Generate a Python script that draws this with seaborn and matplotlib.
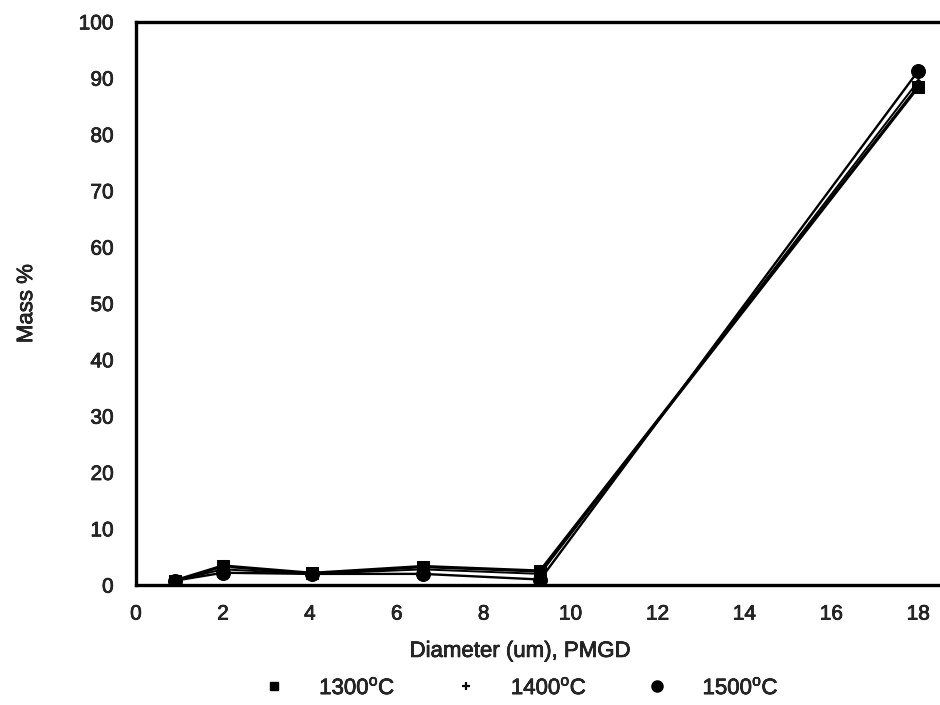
import matplotlib
matplotlib.use("Agg")
import matplotlib.pyplot as plt
import matplotlib.patheffects as pe
import seaborn as sns
import pandas as pd
from matplotlib.lines import Line2D

# Particle diameter (um, PMGD) and mass fraction per furnace temperature
diameters = [0.9, 2.0, 4.05, 6.6, 9.3, 18.0]
mass_1300 = [0.8, 3.4, 2.1, 3.3, 2.5, 88.5]
mass_1400 = [0.8, 2.8, 2.0, 2.8, 2.0, 89.5]
mass_1500 = [0.8, 2.2, 2.0, 2.0, 1.0, 91.3]
series_labels = ["1300$^{\\rm o}$C", "1400$^{\\rm o}$C", "1500$^{\\rm o}$C"]
x_ticks = [0, 2, 4, 6, 8, 10, 12, 14, 16, 18]
y_ticks = [0, 10, 20, 30, 40, 50, 60, 70, 80, 90, 100]

rows = []
for lab, vals in zip(series_labels, [mass_1300, mass_1400, mass_1500]):
    for d, m in zip(diameters, vals):
        rows.append({"Diameter": d, "Mass": m, "Temperature": lab})
df = pd.DataFrame(rows)

sns.set_style("white")
plt.rcParams["font.family"] = ["Liberation Sans", "DejaVu Sans"]
plt.rcParams["mathtext.fontset"] = "custom"
plt.rcParams["mathtext.rm"] = "Liberation Sans"

# slight stroke to give the text a heavier, printed look
heavy = [pe.withStroke(linewidth=0.5, foreground="black")]

fig = plt.figure(figsize=(9.4, 7.05), dpi=100)
ax = fig.add_axes([0.1447, 0.170, 0.8553, 0.799])

markers = {series_labels[0]: "s", series_labels[1]: "P", series_labels[2]: "o"}
widths = {series_labels[0]: 2.4, series_labels[1]: 1.4, series_labels[2]: 1.7}
msz = {series_labels[0]: 9, series_labels[1]: 3, series_labels[2]: 10}
for lab in series_labels:
    sub = df[df["Temperature"] == lab]
    sns.lineplot(data=sub, x="Diameter", y="Mass", ax=ax, color="black",
                 linewidth=widths[lab], marker=markers[lab], markersize=msz[lab],
                 markeredgecolor="black", markerfacecolor="black", legend=False)

ax.set_xlim(0, 18.5)
ax.set_ylim(0, 100)
ax.set_xticks(x_ticks)
ax.set_yticks(y_ticks)
ax.tick_params(axis="y", length=0, labelsize=15, pad=16)
ax.tick_params(axis="x", length=0, labelsize=15, pad=14)
for s in ["left", "top", "bottom"]:
    ax.spines[s].set_color("black")
    ax.spines[s].set_linewidth(2.4)
ax.spines["right"].set_visible(False)
for t in ax.get_xticklabels() + ax.get_yticklabels():
    t.set_path_effects(heavy)

ax.set_xlabel("Diameter (um), PMGD", fontsize=16, path_effects=heavy)
ax.set_ylabel("Mass %", fontsize=16, path_effects=heavy)
ax.xaxis.set_label_coords(0.478, -0.099)
ax.yaxis.set_label_coords(-0.123, 0.5)

handles = [
    Line2D([], [], linestyle="none", marker="s", markersize=6, color="black"),
    Line2D([], [], linestyle="none", marker="+", markersize=6, color="black", markeredgewidth=1.6),
    Line2D([], [], linestyle="none", marker="o", markersize=8, color="black"),
]
leg = fig.legend(handles, series_labels, loc="center", ncol=3, frameon=False,
                 bbox_to_anchor=(0.548, 0.024), fontsize=16, handlelength=2.0,
                 handletextpad=1.04, columnspacing=2.16)
for t in leg.get_texts():
    t.set_path_effects(heavy)

fig.savefig("out.png", dpi=100)
